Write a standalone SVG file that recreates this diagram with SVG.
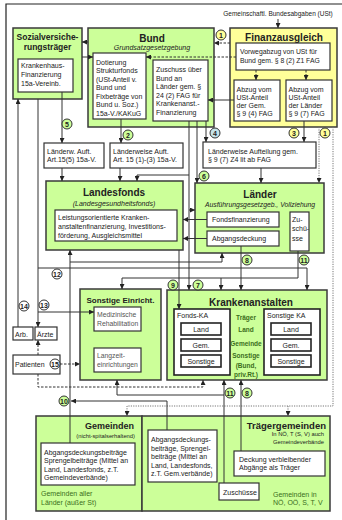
<svg xmlns="http://www.w3.org/2000/svg" width="342" height="520" viewBox="0 0 342 520">
<defs>
<marker id="a" viewBox="0 0 6 6" refX="6" refY="3" markerWidth="5" markerHeight="5" markerUnits="userSpaceOnUse" orient="auto"><path d="M0,0 L6,3 L0,6 z" fill="#222"/></marker>
<style>
.g{fill:#ccff99;stroke:#3a3a3a;stroke-width:1.5}
.y{fill:#ffff99;stroke:#3a3a3a;stroke-width:1.5}
.w{fill:#fff;stroke:#333;stroke-width:1.2}
.wt{fill:#fff;stroke:#222;stroke-width:1.6}
text{font-family:"Liberation Sans",Arial,sans-serif;font-size:7px;fill:#222}
.h{font-weight:bold;font-size:10px}
.m{text-anchor:middle}
.e{text-anchor:end}
.i{font-style:italic}
.s{font-size:5.8px}
.dg{fill:#3b6e1c}
.gy{fill:#555}
.c{fill:none;stroke:#333;stroke-width:1}
.d{stroke-dasharray:2.5 1.5}
.o{stroke:#777;stroke-dasharray:1.2 1.2}
.n{font-weight:bold;font-size:7px;text-anchor:middle}
.cg{fill:#ccff99;stroke:#333;stroke-width:1}
.cy{fill:#ffff99;stroke:#333;stroke-width:1}
.cb{fill:#c5e3ea;stroke:#333;stroke-width:1}
.cw{fill:#fff;stroke:#333;stroke-width:1}
</style>
</defs>
<path d="M6,520 V4 H342" fill="none" stroke="#222" stroke-width="1.2"/>
<text x="278" y="16" class="m" style="font-size:6.5px">Gemeinschaftl. Bundesabgaben (USt)</text>

<g id="sozialversicherung">
<rect x="13" y="28" width="69" height="71" class="g"/>
<text x="47.5" y="40" class="m" style="font-weight:bold;font-size:8.5px">Sozialversiche-</text>
<text x="47.5" y="50" class="m" style="font-weight:bold;font-size:8.5px">rungsträger</text>
<rect x="18" y="59" width="55" height="33" class="w"/>
<text x="21" y="68">Krankenhaus-</text>
<text x="21" y="77">Finanzierung</text>
<text x="21" y="86">15a-Vereinb.</text>
</g>

<g id="bund">
<rect x="88" y="28" width="126" height="99" class="g"/>
<text x="152" y="42" class="h m">Bund</text>
<text x="152" y="50" class="m i">Grundsatzgesetzgebung</text>
<rect x="93" y="53" width="53" height="66" class="w"/>
<text x="96" y="64.5">Dotierung</text>
<text x="96" y="73">Strukturfonds</text>
<text x="96" y="81.5">(USt-Anteil v.</text>
<text x="96" y="90">Bund und</text>
<text x="96" y="98.5">Fixbeträge von</text>
<text x="96" y="107">Bund u. Soz.)</text>
<text x="96" y="115.5">15a-V./KAKuG</text>
<rect x="153" y="60" width="55" height="61" class="w"/>
<text x="156" y="72">Zuschuss über</text>
<text x="156" y="80.5">Bund an</text>
<text x="156" y="89">Länder gem. §</text>
<text x="156" y="97.5">24 (2) FAG für</text>
<text x="156" y="106">Krankenanst.-</text>
<text x="156" y="114.5">Finanzierung</text>
</g>

<g id="finanzausgleich">
<rect x="230" y="28" width="107" height="99" class="y"/>
<text x="284" y="41" class="h m">Finanzausgleich</text>
<rect x="236" y="43" width="94" height="27" class="w"/>
<text x="240" y="54" style="font-size:6.8px">Vorwegabzug von USt für</text>
<text x="240" y="63" style="font-size:6.8px">Bund gem. § 8 (2) Z1 FAG</text>
<rect x="234" y="80" width="46" height="41" class="w"/>
<text x="236.5" y="91.5">Abzug vom</text>
<text x="236.5" y="99.5">USt-Anteil</text>
<text x="236.5" y="107.5">der Gem.</text>
<text x="236.5" y="115.5">§ 9 (4) FAG</text>
<rect x="286" y="80" width="46" height="41" class="w"/>
<text x="288.5" y="91.5">Abzug vom</text>
<text x="288.5" y="99.5">USt-Anteil</text>
<text x="288.5" y="107.5">der Länder</text>
<text x="288.5" y="115.5">§ 9 (7) FAG</text>
</g>

<g id="laenderw-auft-5">
<rect x="44" y="143" width="60" height="25" class="w"/>
<text x="47" y="153.5">Länderw. Auft.</text>
<text x="47" y="161.5">Art.15(5) 15a-V.</text>
</g>
<g id="laenderweise-auft-1-3">
<rect x="110" y="143" width="73" height="25" class="w"/>
<text x="113" y="153.5">Länderweise Auft.</text>
<text x="113" y="161.5">Art. 15 (1)-(3) 15a-V.</text>
</g>
<g id="laenderweise-aufteilung">
<rect x="203" y="142" width="113" height="26" class="w"/>
<text x="208" y="153.5">Länderweise Aufteilung gem.</text>
<text x="208" y="161.5">§ 9 (7) Z4 lit ab FAG</text>
</g>

<g id="landesfonds">
<rect x="46" y="181" width="137" height="69" class="g"/>
<text x="114" y="196" class="h m">Landesfonds</text>
<text x="114" y="206" class="m i">(Landesgesundheitsfonds)</text>
<rect x="55" y="210" width="122" height="31" class="w"/>
<text x="58" y="219.5">Leistungsorientierte Kranken-</text>
<text x="58" y="228.5">anstaltenfinanzierung, Investitions-</text>
<text x="58" y="237.5">förderung, Ausgleichsmittel</text>
</g>

<g id="laender">
<rect x="195" y="183" width="129" height="70" class="g"/>
<text x="260" y="197.5" class="h m">Länder</text>
<text x="260" y="206.5" class="m i" style="font-size:6.8px">Ausführungsgesetzgeb.,  Vollziehung</text>
<rect x="207" y="212" width="72" height="15" class="w"/>
<text x="212" y="222">Fondsfinanzierung</text>
<rect x="207" y="231" width="72" height="15" class="w"/>
<text x="212" y="241">Abgangsdeckung</text>
<rect x="290" y="212" width="19" height="39" class="w"/>
<text x="292" y="221.5">Zu-</text>
<text x="292" y="231">schü-</text>
<text x="292" y="240.5">sse</text>
</g>

<g id="sonstige-einrichtungen">
<rect x="80" y="289" width="81" height="91" class="g"/>
<text x="120.5" y="303" class="m" style="font-weight:bold;font-size:8px">Sonstige Einricht.</text>
<rect x="94" y="307" width="47" height="24" class="w"/>
<text x="97" y="317" class="gy" style="font-size:6.8px">Medizinische</text>
<text x="97" y="326" class="gy" style="font-size:6.8px">Rehabilitation</text>
<rect x="94" y="348" width="47" height="24" class="w"/>
<text x="97" y="358" class="gy" style="font-size:6.8px">Langzeit-</text>
<text x="97" y="367" class="gy" style="font-size:6.8px">einrichtungen</text>
</g>

<g id="krankenanstalten">
<rect x="167" y="290" width="160" height="90" class="g"/>
<text x="251" y="305.5" class="h m">Krankenanstalten</text>
<rect x="174" y="309" width="56" height="66" class="wt"/>
<text x="177" y="318">Fonds-KA</text>
<rect x="181" y="323" width="40" height="12" class="wt"/>
<text x="201" y="331.5" class="m">Land</text>
<rect x="181" y="339" width="40" height="12" class="wt"/>
<text x="201" y="347.5" class="m">Gem.</text>
<rect x="181" y="355" width="40" height="12" class="wt"/>
<text x="201" y="363.5" class="m">Sonstige</text>
<text x="246" y="319.5" class="m dg" style="font-weight:bold;font-size:6.5px">Träger</text>
<text x="246" y="331.5" class="m dg" style="font-weight:bold;font-size:6.5px">Land</text>
<text x="246" y="346" class="m dg" style="font-weight:bold;font-size:6.5px">Gemeinde</text>
<text x="246" y="358" class="m dg" style="font-weight:bold;font-size:6.5px">Sonstige</text>
<text x="246" y="368" class="m dg" style="font-weight:bold;font-size:6.5px">(Bund,</text>
<text x="246" y="377" class="m dg" style="font-weight:bold;font-size:6.5px">priv.Rt.)</text>
<rect x="264" y="309" width="56" height="66" class="wt"/>
<text x="267" y="318">Sonstige KA</text>
<rect x="271" y="323" width="40" height="12" class="wt"/>
<text x="291" y="331.5" class="m">Land</text>
<rect x="271" y="339" width="40" height="12" class="wt"/>
<text x="291" y="347.5" class="m">Gem.</text>
<rect x="271" y="355" width="40" height="12" class="wt"/>
<text x="291" y="363.5" class="m">Sonstige</text>
</g>

<g id="arbeitgeber">
<rect x="13" y="327" width="20" height="13" class="w"/>
<text x="15" y="336.5">Arb.</text>
</g>
<g id="aerzte">
<rect x="35" y="327" width="22" height="13" class="w"/>
<text x="37" y="336.5">Ärzte</text>
</g>
<g id="patienten">
<rect x="13" y="355" width="47" height="19" class="w"/>
<text x="15" y="367">Patienten</text>
</g>

<g id="gemeinden">
<rect x="36" y="416" width="106" height="95" class="g"/>
<text x="134" y="429" class="e" style="font-weight:bold;font-size:9px">Gemeinden</text>
<text x="135" y="437.5" class="e s">(nicht-spitalserhaltend)</text>
<rect x="41" y="443" width="94" height="42" class="w"/>
<text x="44" y="454.5">Abgangsdeckungsbeiträge</text>
<text x="44" y="463">Sprengelbeiträge (Mittel an</text>
<text x="44" y="471.5">Land, Landesfonds, z.T.</text>
<text x="44" y="480">Gemeindeverbände)</text>
<text x="41" y="495.5" class="dg">Gemeinden aller</text>
<text x="41" y="504.5" class="dg">Länder (außer St)</text>
</g>

<g id="traegergemeinden">
<rect x="142" y="416" width="188" height="95" class="g"/>
<text x="326" y="429" class="e" style="font-weight:bold;font-size:9.5px">Trägergemeinden</text>
<text x="324" y="436" class="e s">In NÖ, T (S, V) auch</text>
<text x="324" y="443.5" class="e s">Gemeindeverbände</text>
<rect x="148" y="430" width="69" height="52" class="w"/>
<text x="151" y="442">Abgangsdeckungs-</text>
<text x="151" y="450.5">beiträge, Sprengel-</text>
<text x="151" y="459">beiträge (Mittel an</text>
<text x="151" y="467.5">Land, Landesfonds,</text>
<text x="151" y="476">z.T. Gem.verbände)</text>
<rect x="234" y="451" width="91" height="25" class="w"/>
<text x="239" y="461.5">Deckung verbleibender</text>
<text x="239" y="470">Abgänge als Träger</text>
<rect x="219" y="483" width="40" height="17" class="w"/>
<text x="223" y="494.5">Zuschüsse</text>
<text x="273" y="496.5" class="dg">Gemeinden in</text>
<text x="273" y="505" class="dg">NÖ, OÖ, S, T, V</text>
</g>

<g id="connectors">
<path d="M278,19 V28" class="c" marker-end="url(#a)"/>
<path d="M230,43 H214" class="c d" marker-end="url(#a)"/>
<path d="M88,42 H82" class="c" marker-end="url(#a)"/>
<path d="M82,57 H93" class="c" marker-end="url(#a)"/>
<path d="M236,57 H146" class="c d" marker-end="url(#a)"/>
<path d="M256,70 V80" class="c d" marker-end="url(#a)"/>
<path d="M306,70 V80" class="c d" marker-end="url(#a)"/>
<path d="M234,100 H208" class="c" marker-end="url(#a)"/>
<path d="M304,121 V142" class="c" marker-end="url(#a)"/>
<path d="M121,119 V143" class="c" marker-end="url(#a)"/>
<path d="M62,92 V143" class="c" marker-end="url(#a)"/>
<path d="M206,121 V142" class="c" marker-end="url(#a)"/>
<path d="M197,121 V183" class="c" marker-end="url(#a)"/>
<path d="M189,121 V290" class="c" marker-end="url(#a)"/>
<path d="M189,175 H137 V181" class="c" marker-end="url(#a)"/>
<path d="M189,210 H195" class="c" marker-end="url(#a)"/>
<path d="M62,168 V181" class="c" marker-end="url(#a)"/>
<path d="M120,168 V181" class="c" marker-end="url(#a)"/>
<path d="M261,168 V183" class="c" marker-end="url(#a)"/>
<path d="M319,127 V183" class="c o" marker-end="url(#a)"/>
<path d="M333,127 V406 H127 V416" class="c o" marker-end="url(#a)"/>
<path d="M288,406 V416" class="c o" marker-end="url(#a)"/>
<path d="M207,219.5 H183" class="c" marker-end="url(#a)"/>
<path d="M207,238.5 H183" class="c" marker-end="url(#a)"/>
<path d="M179,250 V309" class="c" marker-end="url(#a)"/>
<path d="M241,246 V290" class="c" marker-end="url(#a)"/>
<path d="M298,251 V278 H122 V289" class="c" marker-end="url(#a)"/>
<path d="M221,278 V290" class="c" marker-end="url(#a)"/>
<path d="M38,268 H307 V290" class="c" marker-end="url(#a)"/>
<path d="M38,99 V327" class="c" marker-end="url(#a)"/>
<path d="M38,312 H94" class="c" marker-end="url(#a)"/>
<path d="M18,327 V99" class="c" marker-end="url(#a)"/>
<path d="M70,443 V250" class="c" marker-end="url(#a)"/>
<path d="M70,262 H222 V253" class="c" marker-end="url(#a)"/>
<path d="M167,430 V401 H71" class="c" marker-end="url(#a)"/>
<path d="M60,364 H80" class="c d" marker-end="url(#a)"/>
<path d="M38,355 V340" class="c d" marker-end="url(#a)"/>
<path d="M38,374 V387 H203 V380" class="c d" marker-end="url(#a)"/>
<path d="M224,483 V380" class="c" marker-end="url(#a)"/>
<path d="M241,451 V380" class="c" marker-end="url(#a)"/>
<path d="M224,395 H117 V380" class="c" marker-end="url(#a)"/>
</g>

<g id="markers">
<circle cx="221" cy="35" r="5" class="cy"/><text x="221" y="37.5" class="n">1</text>
<circle cx="325" cy="133" r="5" class="cy"/><text x="325" y="135.5" class="n">1</text>
<circle cx="128" cy="135" r="5" class="cg"/><text x="128" y="137.5" class="n">2</text>
<circle cx="294" cy="133" r="5" class="cy"/><text x="294" y="135.5" class="n">3</text>
<circle cx="215" cy="133" r="5" class="cb"/><text x="215" y="135.5" class="n">4</text>
<circle cx="67" cy="124" r="5" class="cg"/><text x="67" y="126.5" class="n">5</text>
<circle cx="204" cy="176" r="5" class="cg"/><text x="204" y="178.5" class="n">6</text>
<circle cx="198" cy="285" r="5" class="cg"/><text x="198" y="287.5" class="n">7</text>
<circle cx="247" cy="260" r="5" class="cg"/><text x="247" y="262.5" class="n">8</text>
<circle cx="173" cy="285" r="5" class="cg"/><text x="173" y="287.5" class="n">9</text>
<circle cx="304" cy="260" r="5" class="cg"/><text x="304" y="262.5" class="n">11</text>
<circle cx="57" cy="274" r="5" class="cw"/><text x="57" y="276.5" class="n">12</text>
<circle cx="44" cy="305" r="5" class="cw"/><text x="44" y="307.5" class="n">13</text>
<circle cx="24" cy="306" r="5" class="cw"/><text x="24" y="308.5" class="n">14</text>
<circle cx="55" cy="364" r="5" class="cw"/><text x="55" y="366.5" class="n">15</text>
<circle cx="64" cy="401" r="5" class="cg"/><text x="64" y="403.5" class="n">10</text>
<circle cx="230" cy="393" r="5" class="cg"/><text x="230" y="395.5" class="n">11</text>
<circle cx="247" cy="393" r="5" class="cg"/><text x="247" y="395.5" class="n">8</text>
</g>
</svg>
